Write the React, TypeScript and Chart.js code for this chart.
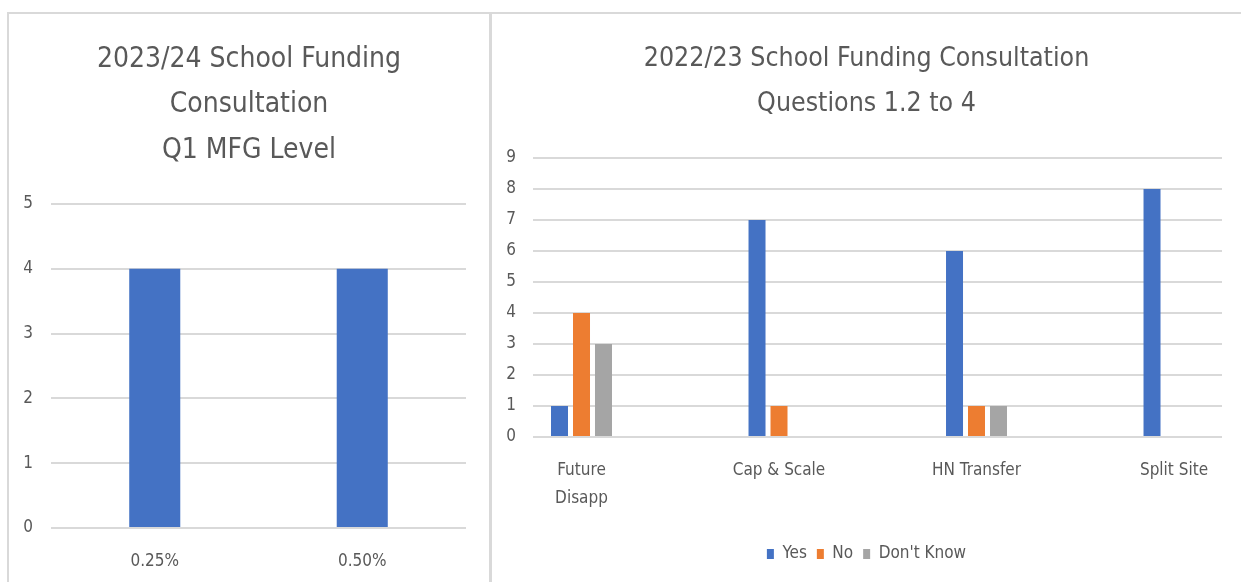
import React, { useEffect, useRef } from "react";
import { Chart, registerables } from "chart.js";

Chart.register(...registerables);

// ---- Data ----
const leftTitle = ["2023/24 School Funding", "Consultation", "Q1 MFG Level"];
const leftCategories = ["0.25%", "0.50%"];
const leftValues = [4, 4];

const rightTitle = ["2022/23 School Funding Consultation", "Questions 1.2 to 4"];
const rightCategories: (string | string[])[] = [["Future", "Disapp"], "Cap & Scale", "HN Transfer", "Split Site"];
const yesValues = [1, 7, 6, 8];
const noValues = [4, 1, 1, 0];
const dontKnowValues = [3, 0, 1, 0];
const seriesNames = ["Yes", "No", "Don't Know"];

// ---- Styles ----
const FONT = "'Liberation Sans Narrow', 'DejaVu Sans Condensed', 'Open Sans', sans-serif";
const TEXT = "#595959";
const GRID = "#d9d9d9";
const BLUE = "#4472C4";
const ORANGE = "#ED7D31";
const GRAY = "#A5A5A5";

function LeftChart() {
  const ref = useRef<HTMLCanvasElement>(null);
  useEffect(() => {
    const chart = new Chart(ref.current!, {
      type: "bar",
      data: {
        labels: leftCategories,
        datasets: [
          {
            label: "Count",
            data: leftValues,
            backgroundColor: BLUE,
            barPercentage: 0.246,
            categoryPercentage: 1,
          },
        ],
      },
      options: {
        responsive: false,
        animation: false,
        layout: { padding: 0 },
        plugins: {
          legend: { display: false },
          tooltip: { enabled: false },
          title: {
            display: true,
            text: leftTitle,
            color: TEXT,
            font: { family: FONT, size: 28, weight: "normal", lineHeight: 45.5 / 28 },
            padding: { top: 21.5, bottom: 31 },
          },
        },
        scales: {
          x: {
            grid: { display: false },
            border: { display: false },
            ticks: { color: TEXT, font: { family: FONT, size: 17, lineHeight: 28 / 17 }, padding: 12 },
            afterFit: (s: any) => {
              s.height = 54;
            },
          },
          y: {
            min: 0,
            max: 5,
            ticks: { stepSize: 1, color: TEXT, font: { family: FONT, size: 17 }, padding: 18 },
            grid: { color: GRID, lineWidth: 2, drawTicks: false },
            border: { display: false },
            afterFit: (s: any) => {
              s.width = 42;
            },
          },
          yr: {
            position: "right",
            display: true,
            grid: { display: false },
            ticks: { display: false },
            border: { display: false },
            afterFit: (s: any) => {
              s.width = 23;
            },
          },
        },
      },
    });
    return () => chart.destroy();
  }, []);
  return <canvas ref={ref} width={480} height={567} style={{ position: "absolute", left: 9, top: 15, width: 480, height: 567 }} />;
}

function RightChart() {
  const ref = useRef<HTMLCanvasElement>(null);
  useEffect(() => {
    const mk = (vals: number[]) => vals.map((v, i) => ({ x: i, y: v }));
    const common = { barPercentage: 0.773, categoryPercentage: 0.334 };
    const chart = new Chart(ref.current!, {
      type: "bar",
      data: {
        datasets: [
          { label: seriesNames[0], data: mk(yesValues), backgroundColor: BLUE, ...common },
          { label: seriesNames[1], data: mk(noValues), backgroundColor: ORANGE, ...common },
          { label: seriesNames[2], data: mk(dontKnowValues), backgroundColor: GRAY, ...common },
        ],
      },
      options: {
        responsive: false,
        animation: false,
        layout: { padding: { left: 0, right: 0, top: 0, bottom: 9.5 } },
        plugins: {
          tooltip: { enabled: false },
          legend: {
            display: true,
            position: "bottom",
            labels: {
              boxWidth: 7,
              boxHeight: 10,
              padding: 10,
              color: TEXT,
              font: { family: FONT, size: 17 },
            },
          },
          title: {
            display: true,
            text: rightTitle,
            color: TEXT,
            font: { family: FONT, size: 26.5, weight: "normal", lineHeight: 45 / 26.5 },
            padding: { top: 21.5, bottom: 31.5 },
          },
        },
        scales: {
          x: {
            type: "linear",
            min: -0.2456,
            max: 3.243,
            offset: false,
            grid: { display: false },
            border: { display: false },
            afterBuildTicks: (s: any) => {
              s.ticks = rightCategories.map((_, i) => ({ value: i }));
            },
            ticks: {
              autoSkip: false,
              maxRotation: 0,
              color: TEXT,
              font: { family: FONT, size: 17, lineHeight: 28 / 17 },
              padding: 12,
              callback: (v: any) => rightCategories[Math.round(Number(v))] as any,
            },
            afterFit: (s: any) => {
              s.height = 98.5;
            },
          },
          y: {
            min: 0,
            max: 9,
            ticks: { stepSize: 1, color: TEXT, font: { family: FONT, size: 17 }, padding: 17 },
            grid: { color: GRID, lineWidth: 2, drawTicks: false },
            border: { display: false },
            afterFit: (s: any) => {
              s.width = 41;
            },
          },
          yr: {
            position: "right",
            display: true,
            grid: { display: false },
            ticks: { display: false },
            border: { display: false },
            afterFit: (s: any) => {
              s.width = 19;
            },
          },
        },
      },
    });
    return () => chart.destroy();
  }, []);
  return <canvas ref={ref} width={749} height={567} style={{ position: "absolute", left: 492, top: 15, width: 749, height: 567 }} />;
}

export default function App() {
  return (
    <div style={{ position: "absolute", left: 0, top: 0, width: 1241, height: 582, overflow: "hidden", background: "#fff" }}>
      <div style={{ position: "absolute", left: 7, top: 12, width: 1234, height: 2, background: GRID }} />
      <div style={{ position: "absolute", left: 7, top: 12, width: 2, height: 570, background: GRID }} />
      <div style={{ position: "absolute", left: 489, top: 12, width: 3, height: 570, background: GRID }} />
      <LeftChart />
      <RightChart />
    </div>
  );
}
